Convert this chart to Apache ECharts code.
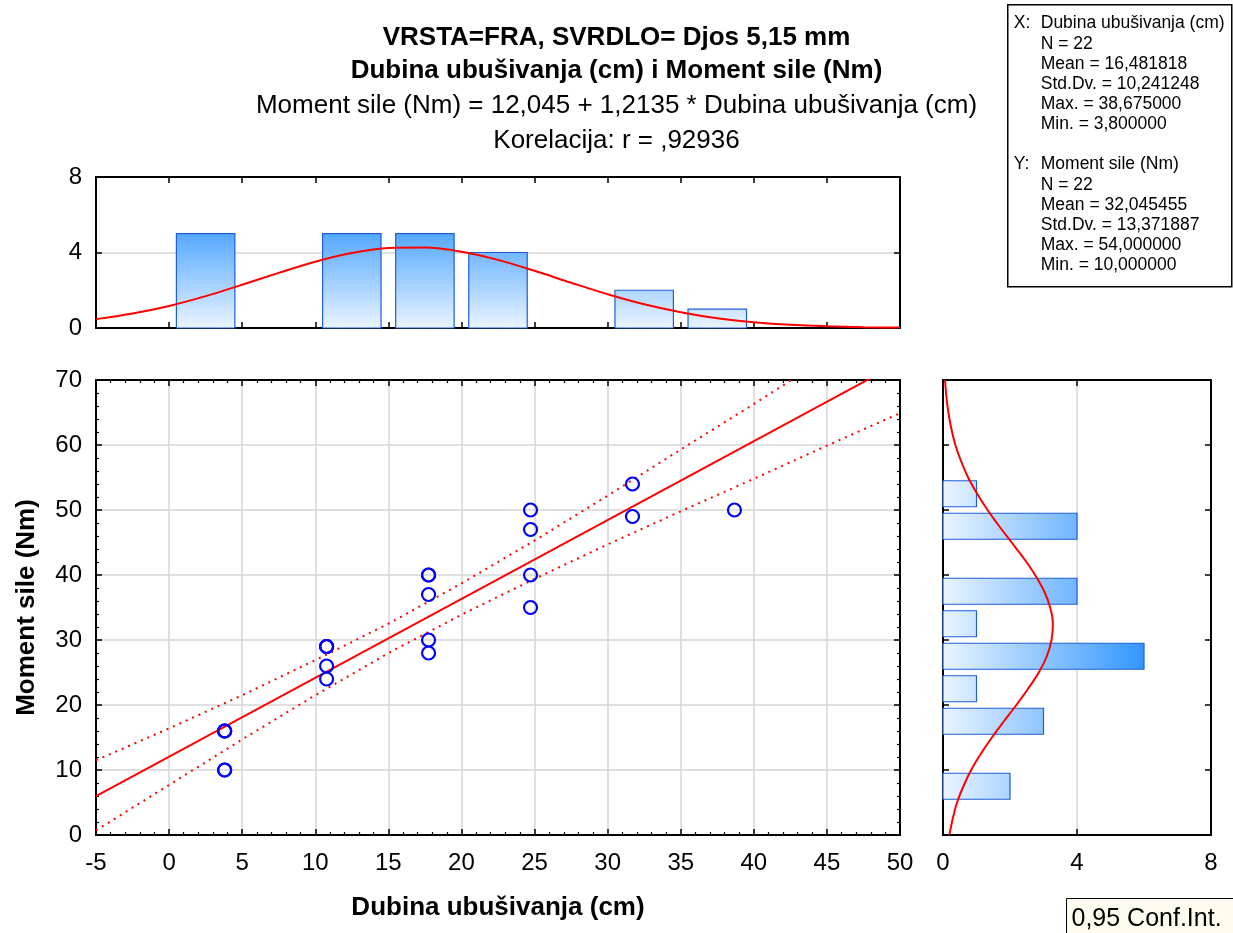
<!DOCTYPE html>
<html>
<head>
<meta charset="utf-8">
<script src="https://cdn.jsdelivr.net/npm/echarts@6/dist/echarts.min.js"></script>
<style>
  html, body { margin: 0; padding: 0; background: #fff; }
  #main { width: 1233px; height: 933px; }
</style>
</head>
<body>
<div id="main"></div>
<script>
// dubina ubusivanja (cm) / moment sile (Nm), 22 mjerenja
const xDepth = [3.8, 3.8, 3.8, 3.8, 3.8,
  10.775, 10.775, 10.775, 10.775, 10.775,
  17.75, 17.75, 17.75, 17.75, 17.75,
  24.725, 24.725, 24.725, 24.725,
  31.7, 31.7, 38.675];
const yMoment = [16, 16, 16, 10, 10,
  29, 29, 29, 26, 24,
  40, 40, 37, 30, 28,
  50, 47, 40, 35,
  54, 49, 50];

// regresijski pravac i 0,95 pojas
const regX = [-5, 50];
const regY = [5.98, 72.72];
const bandX = [-5, 0, 5, 10, 15, 20, 25, 30, 35, 40, 45, 50];
const bandUpper = [11.5, 16.4, 21.5, 26.9, 32.5, 38.7, 45.3, 52.2, 59.3, 66.3, 73.5, 80.6];
const bandLower = [0.7, 7.7, 14.7, 21.5, 28.0, 33.9, 39.4, 44.7, 49.8, 54.8, 59.9, 64.9];

// histogram X (gore)
const xBinLo = [0, 10, 15, 20, 30, 35];
const xBinHi = [5, 15, 20, 25, 35, 40];
const xBinCount = [5, 5, 5, 4, 2, 1];
const xFitX = [-5, -2.5, 0, 2.5, 5, 7.5, 10, 12.5, 15, 17.5, 20, 22.5, 25, 27.5, 30, 32.5, 35, 37.5, 40, 42.5, 45, 47.5, 50];
const xFitY = [0.47, 0.77, 1.17, 1.69, 2.29, 2.92, 3.51, 3.97, 4.24, 4.26, 4.04, 3.61, 3.03, 2.40, 1.79, 1.26, 0.84, 0.52, 0.31, 0.17, 0.09, 0.04, 0.02];

// histogram Y (desno)
const yBinLo = [5, 15, 20, 25, 30, 35, 45, 50];
const yBinHi = [10, 20, 25, 30, 35, 40, 50, 55];
const yBinCount = [2, 3, 1, 6, 1, 4, 4, 1];
const yFitY = [0, 2.5, 5, 7.5, 10, 12.5, 15, 17.5, 20, 22.5, 25, 27.5, 30, 32.5, 35, 37.5, 40, 42.5, 45, 47.5, 50, 52.5, 55, 57.5, 60, 62.5, 65, 67.5, 70];
const yFitCount = [0.19, 0.29, 0.42, 0.61, 0.84, 1.13, 1.46, 1.82, 2.19, 2.54, 2.86, 3.10, 3.24, 3.28, 3.20, 3.02, 2.75, 2.42, 2.05, 1.68, 1.33, 1.02, 0.75, 0.54, 0.37, 0.25, 0.16, 0.10, 0.06];

const statsX = ['N = 22', 'Mean = 16,481818', 'Std.Dv. = 10,241248', 'Max. = 38,675000', 'Min. = 3,800000'];
const statsY = ['N = 22', 'Mean = 32,045455', 'Std.Dv. = 13,371887', 'Max. = 54,000000', 'Min. = 10,000000'];

const FONT = 'Liberation Sans, Arial, sans-serif';
const BAR_GAP = 0.5;
const BAR_LIGHT = '#eaf4ff';
const BAR_DARK = '#3396ff';
const BAR_EDGE = '#1f5fd6';
const GRID_LINE = { show: true, showMinLine: false, showMaxLine: false, lineStyle: { color: '#d6d6d6', width: 1.5 } };
const AXIS_LINE = { show: true, onZero: false, lineStyle: { color: '#000', width: 2 } };
const MAJOR_TICK = { show: true, inside: true, length: 6, lineStyle: { color: '#000', width: 1.5 } };

var chart = echarts.init(document.getElementById('main'));

function tickAxis(extra) {
  // pomocna os: samo crtice, bez oznaka
  return Object.assign({
    type: 'value',
    axisLine: AXIS_LINE,
    axisTick: MAJOR_TICK,
    axisLabel: { show: false },
    splitLine: { show: false }
  }, extra);
}

const labelStyle = { color: '#000', fontSize: 24, fontFamily: FONT };
const minorTick = { show: true, splitNumber: 5, length: 3, lineStyle: { color: '#000', width: 1.2 } };

var option = {
  animation: false,
  backgroundColor: '#fff',
  title: [
    { text: 'VRSTA=FRA, SVRDLO= Djos 5,15 mm', left: 'center', top: 20, textStyle: { fontSize: 26, fontWeight: 'bold', fontFamily: FONT, color: '#000' } },
    { text: 'Dubina ubušivanja (cm) i Moment sile (Nm)', left: 'center', top: 53, textStyle: { fontSize: 26, fontWeight: 'bold', fontFamily: FONT, color: '#000' } },
    { text: 'Moment sile (Nm) = 12,045 + 1,2135 * Dubina ubušivanja (cm)', left: 'center', top: 88, textStyle: { fontSize: 26, fontWeight: 'normal', fontFamily: FONT, color: '#000' } },
    { text: 'Korelacija: r = ,92936', left: 'center', top: 123, textStyle: { fontSize: 26, fontWeight: 'normal', fontFamily: FONT, color: '#000' } }
  ],
  grid: [
    { left: 96, top: 380, width: 804, height: 455 },
    { left: 96, top: 177, width: 804, height: 151 },
    { left: 943, top: 380, width: 268, height: 455 }
  ],
  xAxis: [
    {
      type: 'value', gridIndex: 0, position: 'bottom', min: -5, max: 50, interval: 5,
      name: 'Dubina ubušivanja (cm)', nameLocation: 'middle', nameGap: 60,
      nameTextStyle: { fontSize: 26, fontWeight: 'bold', fontFamily: FONT, color: '#000' },
      axisLine: AXIS_LINE,
      axisTick: MAJOR_TICK,
      minorTick: minorTick,
      axisLabel: Object.assign({ margin: 16 }, labelStyle),
      splitLine: GRID_LINE
    },
    tickAxis({ gridIndex: 0, position: 'top', min: -5, max: 50, interval: 5, minorTick: minorTick }),
    tickAxis({ gridIndex: 1, position: 'bottom', min: -5, max: 50, interval: 5 }),
    tickAxis({ gridIndex: 1, position: 'top', min: -5, max: 50, interval: 5 }),
    {
      type: 'value', gridIndex: 2, position: 'bottom', min: 0, max: 8, interval: 4,
      axisLine: AXIS_LINE,
      axisTick: MAJOR_TICK,
      axisLabel: Object.assign({ margin: 16 }, labelStyle),
      splitLine: GRID_LINE
    },
    tickAxis({ gridIndex: 2, position: 'top', min: 0, max: 8, interval: 4 })
  ],
  yAxis: [
    {
      type: 'value', gridIndex: 0, position: 'left', min: 0, max: 70, interval: 10,
      name: 'Moment sile (Nm)', nameLocation: 'middle', nameGap: 56,
      nameTextStyle: { fontSize: 26, fontWeight: 'bold', fontFamily: FONT, color: '#000' },
      axisLine: AXIS_LINE,
      axisTick: MAJOR_TICK,
      minorTick: minorTick,
      axisLabel: Object.assign({ margin: 14 }, labelStyle),
      splitLine: GRID_LINE
    },
    tickAxis({ gridIndex: 0, position: 'right', min: 0, max: 70, interval: 10, minorTick: minorTick }),
    {
      type: 'value', gridIndex: 1, position: 'left', min: 0, max: 8, interval: 4,
      axisLine: AXIS_LINE,
      axisTick: MAJOR_TICK,
      axisLabel: Object.assign({ margin: 14 }, labelStyle),
      splitLine: GRID_LINE
    },
    tickAxis({ gridIndex: 1, position: 'right', min: 0, max: 8, interval: 4 }),
    tickAxis({ gridIndex: 2, position: 'left', min: 0, max: 70, interval: 10 }),
    tickAxis({ gridIndex: 2, position: 'right', min: 0, max: 70, interval: 10 })
  ],
  series: [
    {
      // gornji histogram
      type: 'custom', xAxisIndex: 2, yAxisIndex: 2, z: 2,
      data: xBinLo.map((lo, i) => [lo, xBinHi[i], xBinCount[i]]),
      renderItem: function (params, api) {
        var lo = api.value(0), hi = api.value(1), n = api.value(2);
        var p0 = api.coord([lo + BAR_GAP, n]);
        var p1 = api.coord([hi - BAR_GAP, 0]);
        var g0 = api.coord([0, 0]);
        var g1 = api.coord([0, Math.max.apply(null, xBinCount)]);
        return {
          type: 'rect',
          shape: { x: p0[0], y: p0[1], width: p1[0] - p0[0], height: p1[1] - p0[1] },
          style: {
            fill: new echarts.graphic.LinearGradient(0, g0[1], 0, g1[1], [
              { offset: 0, color: BAR_LIGHT }, { offset: 1, color: '#55a8ff' }
            ], true),
            stroke: BAR_EDGE, lineWidth: 1.2
          }
        };
      }
    },
    {
      type: 'line', xAxisIndex: 2, yAxisIndex: 2, z: 3, smooth: 0.3, symbol: 'none',
      lineStyle: { color: '#ff0000', width: 2 },
      data: xFitX.map((x, i) => [x, xFitY[i]])
    },
    {
      // desni histogram
      type: 'custom', xAxisIndex: 4, yAxisIndex: 4, z: 2,
      data: yBinLo.map((lo, i) => [lo, yBinHi[i], yBinCount[i]]),
      renderItem: function (params, api) {
        var lo = api.value(0), hi = api.value(1), n = api.value(2);
        var p0 = api.coord([0, hi - BAR_GAP]);
        var p1 = api.coord([n, lo + BAR_GAP]);
        var g0 = api.coord([0, 0]);
        var g1 = api.coord([Math.max.apply(null, yBinCount), 0]);
        return {
          type: 'rect',
          shape: { x: p0[0], y: p0[1], width: p1[0] - p0[0], height: p1[1] - p0[1] },
          style: {
            fill: new echarts.graphic.LinearGradient(g0[0], 0, g1[0], 0, [
              { offset: 0, color: BAR_LIGHT }, { offset: 1, color: BAR_DARK }
            ], true),
            stroke: BAR_EDGE, lineWidth: 1.2
          }
        };
      }
    },
    {
      type: 'line', xAxisIndex: 4, yAxisIndex: 4, z: 3, smooth: 0.3, symbol: 'none',
      lineStyle: { color: '#ff0000', width: 2 },
      data: yFitY.map((y, i) => [yFitCount[i], y])
    },
    {
      type: 'line', xAxisIndex: 0, yAxisIndex: 0, z: 3, symbol: 'none',
      lineStyle: { color: '#ff0000', width: 2 },
      data: regX.map((x, i) => [x, regY[i]])
    },
    {
      type: 'line', xAxisIndex: 0, yAxisIndex: 0, z: 3, symbol: 'none',
      lineStyle: { color: '#ff0000', width: 2, type: [2, 5] },
      data: bandX.map((x, i) => [x, bandUpper[i]])
    },
    {
      type: 'line', xAxisIndex: 0, yAxisIndex: 0, z: 3, symbol: 'none',
      lineStyle: { color: '#ff0000', width: 2, type: [2, 5] },
      data: bandX.map((x, i) => [x, bandLower[i]])
    },
    {
      type: 'scatter', xAxisIndex: 0, yAxisIndex: 0, z: 4,
      symbol: 'circle', symbolSize: 13,
      itemStyle: { color: 'rgba(255,255,255,0)', borderColor: '#0000ff', borderWidth: 2.2, opacity: 1 },
      data: xDepth.map((x, i) => [x, yMoment[i]])
    }
  ],
  graphic: [
    {
      type: 'group', left: 1007, top: 4,
      children: [
        { type: 'rect', shape: { x: 0, y: 0, width: 224, height: 282 }, style: { fill: '#fff', stroke: '#000', lineWidth: 1.5 } },
        { type: 'text', x: 6, y: 18, style: { text: 'X:', font: '17.5px ' + FONT, fill: '#000', verticalAlign: 'middle' } },
        { type: 'text', x: 33, y: 18, style: { text: 'Dubina ubušivanja (cm)', font: '17.5px ' + FONT, fill: '#000', verticalAlign: 'middle' } }
      ].concat(statsX.map((s, i) => ({
        type: 'text', x: 33, y: 39 + i * 20.2, style: { text: s, font: '17.5px ' + FONT, fill: '#000', verticalAlign: 'middle' }
      }))).concat([
        { type: 'text', x: 6, y: 159, style: { text: 'Y:', font: '17.5px ' + FONT, fill: '#000', verticalAlign: 'middle' } },
        { type: 'text', x: 33, y: 159, style: { text: 'Moment sile (Nm)', font: '17.5px ' + FONT, fill: '#000', verticalAlign: 'middle' } }
      ]).concat(statsY.map((s, i) => ({
        type: 'text', x: 33, y: 180 + i * 20.2, style: { text: s, font: '17.5px ' + FONT, fill: '#000', verticalAlign: 'middle' }
      })))
    },
    {
      type: 'group', left: 1066, top: 898,
      children: [
        { type: 'rect', shape: { x: 0, y: 0, width: 175, height: 40 }, style: { fill: '#fffbee', stroke: '#000', lineWidth: 1 } },
        { type: 'text', x: 5, y: 21, style: { text: '0,95 Conf.Int.', font: '25px ' + FONT, fill: '#000', verticalAlign: 'middle' } }
      ]
    }
  ]
};

chart.setOption(option);
window.addEventListener('resize', () => {
  chart.resize();
}, false);
</script>
</body>
</html>
